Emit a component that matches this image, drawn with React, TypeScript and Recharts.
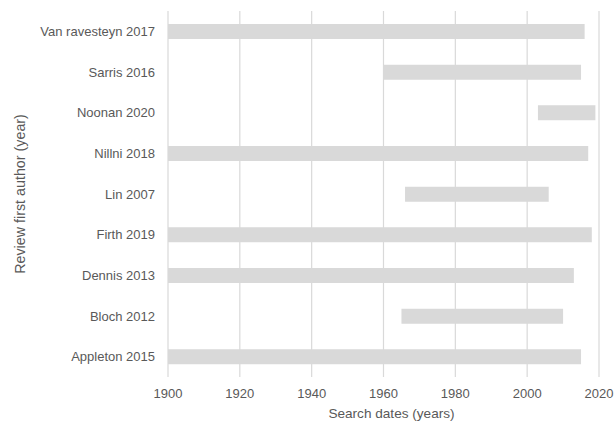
import React from "react";
import { BarChart, Bar, XAxis, YAxis, CartesianGrid } from "recharts";

const reviews = [
  "Van ravesteyn 2017",
  "Sarris 2016",
  "Noonan 2020",
  "Nillni 2018",
  "Lin 2007",
  "Firth 2019",
  "Dennis 2013",
  "Bloch 2012",
  "Appleton 2015",
];
const startYears = [1900, 1960, 2003, 1900, 1966, 1900, 1900, 1965, 1900];
const endYears = [2016, 2015, 2019, 2017, 2006, 2018, 2013, 2010, 2015];
const xTicks = [1900, 1920, 1940, 1960, 1980, 2000, 2020];
const xTitle = "Search dates (years)";
const yTitle = "Review first author (year)";

const data = reviews.map((name, i) => ({
  name,
  range: [startYears[i], endYears[i]],
}));

const font = "'Liberation Sans', Arial, sans-serif";

const XTitle = (props: any) => {
  const vb = props.viewBox || {};
  const cx = vb.x + vb.width / 2 + 8;
  return (
    <text x={cx} y={418} textAnchor="middle" fill="#595959" fontSize={13.6} fontFamily={font}>
      {xTitle}
    </text>
  );
};

const YTitle = (props: any) => {
  const vb = props.viewBox || {};
  const cy = vb.y + vb.height / 2;
  const cx = 20;
  return (
    <text
      x={cx}
      y={cy}
      transform={`rotate(-90, ${cx}, ${cy})`}
      textAnchor="middle"
      dominantBaseline="central"
      fill="#595959"
      fontSize={14.3}
      fontFamily={font}
    >
      {yTitle}
    </text>
  );
};

export default function App() {
  return (
    <div style={{ position: "absolute", left: 0, top: 0, background: "#fff" }}>
      <BarChart
        width={614}
        height={421}
        data={data}
        layout="vertical"
        margin={{ top: 11, right: 15, bottom: 0, left: 0 }}
      >
        <CartesianGrid horizontal={false} stroke="#d9d9d9" strokeWidth={1.2} />
        <XAxis
          type="number"
          domain={[1900, 2020]}
          ticks={xTicks}
          axisLine={false}
          tickLine={false}
          tickSize={10}
          tickMargin={2}
          height={44}
          tick={{ fill: "#595959", fontSize: 13, fontFamily: font }}
          label={<XTitle />}
        />
        <YAxis
          type="category"
          dataKey="name"
          width={168}
          axisLine={false}
          tickLine={false}
          tickSize={6}
          tickMargin={7}
          tick={{ fill: "#595959", fontSize: 13, fontFamily: font }}
          label={<YTitle />}
        />
        <Bar dataKey="range" fill="#d9d9d9" barSize={15} isAnimationActive={false} />
      </BarChart>
    </div>
  );
}
